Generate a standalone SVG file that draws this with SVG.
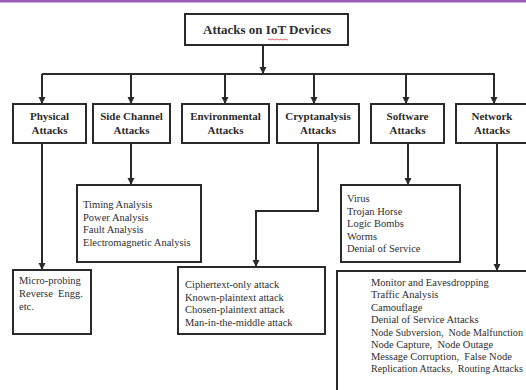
<svg xmlns="http://www.w3.org/2000/svg" width="526" height="390" viewBox="0 0 526 390">
<style>
.box{fill:#fff;stroke:#2a2a2a;stroke-width:2}
.ln{fill:none;stroke:#2a2a2a;stroke-width:2}
.t{font-family:"Liberation Serif","Times New Roman",serif;fill:#2e2e2e}
.h{font-weight:bold;font-size:11px;text-anchor:middle;fill:#2a2a2a}
.b{font-size:10.5px}
</style>
<defs>
<marker id="ad" markerWidth="8" markerHeight="8" refX="7" refY="4" orient="auto" markerUnits="userSpaceOnUse" viewBox="0 0 8 8">
<path d="M0,0.5 L7,4 L0,7.5 Z" fill="#2a2a2a"/>
</marker>
</defs>
<rect x="0" y="0" width="526" height="2.5" fill="#9b5cba"/>
<g id="connectors">
<path class="ln" d="M263,45 V74" marker-end="url(#ad)"/>
<path class="ln" d="M42,74 H495"/>
<path class="ln" d="M42,74 V104" marker-end="url(#ad)"/>
<path class="ln" d="M131,74 V104" marker-end="url(#ad)"/>
<path class="ln" d="M225,74 V104" marker-end="url(#ad)"/>
<path class="ln" d="M314,74 V104" marker-end="url(#ad)"/>
<path class="ln" d="M406,74 V104" marker-end="url(#ad)"/>
<path class="ln" d="M494,74 V104" marker-end="url(#ad)"/>
<path class="ln" d="M42,143 V270" marker-end="url(#ad)"/>
<path class="ln" d="M131,143 V185" marker-end="url(#ad)"/>
<path class="ln" d="M318,143 V211 H256 V267" marker-end="url(#ad)"/>
<path class="ln" d="M408,143 V185" marker-end="url(#ad)"/>
<path class="ln" d="M497,143 V271" marker-end="url(#ad)"/>
</g>
<g id="root">
<rect class="box" x="185" y="14" width="163" height="31"/>
<text class="t" x="267" y="34" font-size="13" font-weight="bold" text-anchor="middle" fill="#2a2a2a">Attacks on IoT Devices</text>
<path d="M268,39.5 q1,-1 2,0 t2,0 t2,0 t2,0 t2,0 t2,0 t2,0 t2,0 t2,0 t2,0" fill="none" stroke="#d04040" stroke-width="0.8"/>
</g>
<g id="physical">
<rect class="box" x="13" y="104" width="73" height="39"/>
<text class="t h" x="49.5" y="120">Physical</text>
<text class="t h" x="49.5" y="134">Attacks</text>
</g>
<g id="sidechannel">
<rect class="box" x="93" y="104" width="77" height="39"/>
<text class="t h" x="131.5" y="120">Side Channel</text>
<text class="t h" x="131.5" y="134">Attacks</text>
</g>
<g id="environmental">
<rect class="box" x="182" y="104" width="87" height="39"/>
<text class="t h" x="225.5" y="120">Environmental</text>
<text class="t h" x="225.5" y="134">Attacks</text>
</g>
<g id="cryptanalysis">
<rect class="box" x="277" y="104" width="82" height="39"/>
<text class="t h" x="318" y="120">Cryptanalysis</text>
<text class="t h" x="318" y="134">Attacks</text>
</g>
<g id="software">
<rect class="box" x="371" y="104" width="73" height="39"/>
<text class="t h" x="407.5" y="120">Software</text>
<text class="t h" x="407.5" y="134">Attacks</text>
</g>
<g id="network">
<rect class="box" x="456" y="104" width="72" height="39"/>
<text class="t h" x="492" y="120">Network</text>
<text class="t h" x="492" y="134">Attacks</text>
</g>
<g id="physical-list">
<rect class="box" x="13" y="270" width="78" height="64"/>
<text class="t b" x="19" y="284">Micro-probing</text>
<text class="t b" x="19" y="297" xml:space="preserve">Reverse  Engg.</text>
<text class="t b" x="19" y="310">etc.</text>
</g>
<g id="sidechannel-list">
<rect class="box" x="77" y="185" width="124" height="77"/>
<text class="t b" x="83" y="208">Timing Analysis</text>
<text class="t b" x="83" y="220.5">Power Analysis</text>
<text class="t b" x="83" y="233">Fault Analysis</text>
<text class="t b" x="83" y="245.5">Electromagnetic Analysis</text>
</g>
<g id="crypto-list">
<rect class="box" x="178" y="267" width="147" height="67"/>
<text class="t b" x="185" y="288">Ciphertext-only attack</text>
<text class="t b" x="185" y="300.5">Known-plaintext attack</text>
<text class="t b" x="185" y="313">Chosen-plaintext attack</text>
<text class="t b" x="185" y="325.5">Man-in-the-middle attack</text>
</g>
<g id="software-list">
<rect class="box" x="341" y="185" width="119" height="77"/>
<text class="t b" x="347" y="202">Virus</text>
<text class="t b" x="347" y="214.5">Trojan Horse</text>
<text class="t b" x="347" y="227">Logic Bombs</text>
<text class="t b" x="347" y="239.5">Worms</text>
<text class="t b" x="347" y="252">Denial of Service</text>
</g>
<g id="network-list">
<rect class="box" x="337" y="271" width="195" height="130"/>
<text class="t b" x="371" y="286">Monitor and Eavesdropping</text>
<text class="t b" x="371" y="298">Traffic Analysis</text>
<text class="t b" x="371" y="310.5">Camouflage</text>
<text class="t b" x="371" y="323">Denial of Service Attacks</text>
<text class="t b" x="371" y="335.5" textLength="152" lengthAdjust="spacingAndGlyphs" xml:space="preserve">Node Subversion,  Node Malfunction</text>
<text class="t b" x="371" y="348" xml:space="preserve">Node Capture,  Node Outage</text>
<text class="t b" x="371" y="360" xml:space="preserve">Message Corruption,  False Node</text>
<text class="t b" x="371" y="372" textLength="152" lengthAdjust="spacingAndGlyphs" xml:space="preserve">Replication Attacks,  Routing Attacks</text>
</g>
</svg>
